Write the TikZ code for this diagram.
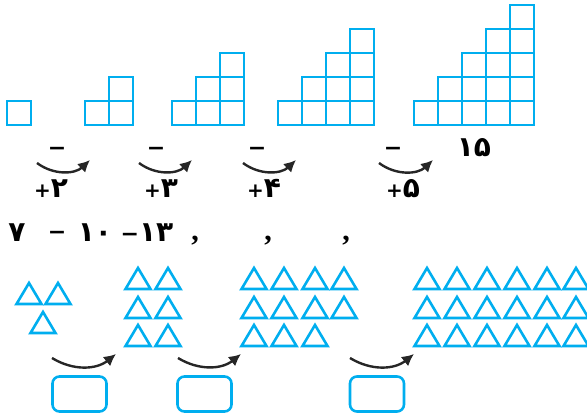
\documentclass[tikz,border=0pt]{standalone}
\usepackage{fontspec}
\newfontfamily\digitfont{DejaVu Sans}
\newfontfamily\commafont{Liberation Serif}
\usetikzlibrary{arrows.meta}
\definecolor{sky}{RGB}{0,174,239}
\tikzset{
  cell/.style={draw=sky, line width=2.8pt},
  tri/.style={draw=sky, line width=2.6pt, line join=miter},
  hop/.style={-{Latex[length=12pt,width=12pt]}, line width=2.4pt, black!85},
  blank/.style={draw=sky, line width=2.6pt, rounded corners=7pt, minimum width=54pt, minimum height=35pt},
  num/.style={font=\digitfont\bfseries\fontsize{28}{28}\selectfont, inner sep=0pt, anchor=base},
  bar/.style={font=\digitfont\bfseries\fontsize{22}{22}\selectfont, inner sep=0pt},
  sep/.style={font=\commafont\bfseries\fontsize{30}{30}\selectfont, inner sep=0pt, anchor=base},
}
\newcommand{\plus}{{\fontsize{20}{20}\selectfont+}}
\newcommand{\minus}{{\fontsize{22}{22}\selectfont−}}
\newcommand{\stair}[2]{% left x, number of columns
  \foreach \i in {1,...,#2}{
    \foreach \j in {1,...,\i}{
      \draw[cell] ({#1+(\i-1)*24},{125-(\j-1)*24}) rectangle ++(24,-24);
    }
  }
}
\newcommand{\deltatri}[2]{% centre x, top y
  \draw[tri] ({#1-12.5},{#2+21}) -- (#1,#2) -- ({#1+12.5},{#2+21}) -- cycle;
}
\begin{document}
\begin{tikzpicture}[x=1pt, y=-1pt]
    \useasboundingbox (0,0) rectangle (587,414);

    % staircases
    \stair{7}{1}
    \stair{85}{2}
    \stair{172}{3}
    \stair{278}{4}
    \stair{414}{5}
    \node[num] (n15) at (474,157) {۱۵};

    % steps between staircases
    \coordinate (a1) at (37,163);  \coordinate (b1) at (90,160);
    \coordinate (a2) at (139,163); \coordinate (b2) at (192,160);
    \coordinate (a3) at (243,163); \coordinate (b3) at (296,160);
    \coordinate (a4) at (379,163); \coordinate (b4) at (433,160);
    \draw[hop] (a1) to[bend right=40] (b1);
    \draw[hop] (a2) to[bend right=40] (b2);
    \draw[hop] (a3) to[bend right=40] (b3);
    \draw[hop] (a4) to[bend right=40] (b4);
    \node[bar] (m1) at (57,151) {−};
    \node[bar] (m2) at (156,151) {−};
    \node[bar] (m3) at (257,151) {−};
    \node[bar] (m4) at (393,151) {−};
    \node[num] (p1) at (51,198) {\plus۲};
    \node[num] (p2) at (161,198) {\plus۳};
    \node[num] (p3) at (264,198) {\plus۴};
    \node[num] (p4) at (403,198) {\plus۵};

    % sequence row
    \node[num] (s1) at (17,242) {۷};
    \node[bar] (s2) at (57,235) {−};
    \node[num] (s3) at (95,242) {۱۰};
    \node[num] (s4) at (147,242) {\minus۱۳};
    \node[sep] (c1) at (195,241) {,};
    \node[sep] (c2) at (268,241) {,};
    \node[sep] (c3) at (346,241) {,};

    % triangles
    \foreach \x in {29,58} {\deltatri{\x}{283}}
    \deltatri{43}{312}
    \foreach \y in {268,297,325} {
      \foreach \x in {138,168} {\deltatri{\x}{\y}}
    }
    \foreach \y in {268,297} {
      \foreach \x in {254,284,315,344} {\deltatri{\x}{\y}}
    }
    \foreach \x in {254,284,315} {\deltatri{\x}{325}}
    \foreach \y in {268,297,325} {
      \foreach \x in {427,457,487,517,547,576} {\deltatri{\x}{\y}}
    }

    % steps between groups
    \coordinate (c1a) at (52,358);  \coordinate (c1b) at (116,354);
    \coordinate (c2a) at (178,358); \coordinate (c2b) at (241,354);
    \coordinate (c3a) at (350,358); \coordinate (c3b) at (414,354);
    \draw[hop] (c1a) to[bend right=35] (c1b);
    \draw[hop] (c2a) to[bend right=35] (c2b);
    \draw[hop] (c3a) to[bend right=35] (c3b);
    \node[blank] (box1) at (79.5,394) {};
    \node[blank] (box2) at (204.5,394) {};
    \node[blank] (box3) at (377,394) {};
\end{tikzpicture}
\end{document}
